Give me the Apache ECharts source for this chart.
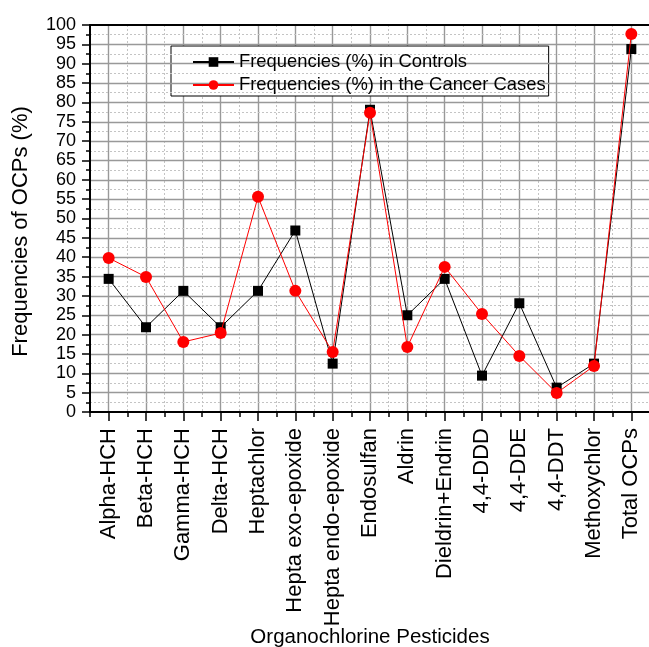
<!DOCTYPE html>
<html>
<head>
<meta charset="utf-8">
<script src="https://cdn.jsdelivr.net/npm/echarts@6/dist/echarts.min.js"></script>
<style>html,body{margin:0;padding:0;background:#fff;}#c{width:649px;height:647px;}</style>
</head>
<body>
<div id="c"></div>
<script>
const categories = ['Alpha-HCH','Beta-HCH','Gamma-HCH','Delta-HCH','Heptachlor','Hepta exo-epoxide','Hepta endo-epoxide','Endosulfan','Aldrin','Dieldrin+Endrin','4,4-DDD','4,4-DDE','4,4-DDT','Methoxychlor','Total OCPs'];
const controls = [34.4, 21.9, 31.3, 21.9, 31.3, 46.9, 12.5, 78.1, 25.0, 34.4, 9.4, 28.1, 6.3, 12.5, 93.8];
const cancer = [39.8, 34.9, 18.1, 20.4, 55.6, 31.3, 15.5, 77.3, 16.8, 37.5, 25.3, 14.5, 4.9, 11.9, 97.7];
const yTicks = {min: 0, max: 100, interval: 5};
const seriesNames = ['Frequencies (%) in Controls', 'Frequencies (%) in the Cancer Cases'];

const FONT = '"Liberation Sans", Arial, sans-serif';
const chart = echarts.init(document.getElementById('c'), null, {renderer: 'canvas'});
chart.setOption({
  backgroundColor: '#fff',
  animation: false,
  textStyle: {fontFamily: FONT, color: '#000'},
  grid: {left: 90, top: 25, width: 560, height: 387, containLabel: false, outerBoundsMode: 'none'},
  legend: {
    show: true,
    orient: 'vertical',
    left: 171, top: 46,
    padding: [7, 3, 2, 21],
    itemWidth: 41, itemHeight: 12,
    itemGap: 5,
    backgroundColor: '#fff',
    borderColor: '#000', borderWidth: 1, borderRadius: 0,
    textStyle: {fontFamily: FONT, fontSize: 18.4, color: '#000', padding: [0,0,0,0]},
    data: seriesNames
  },
  xAxis: [
    {
      type: 'category', data: categories, boundaryGap: true, position: 'bottom', z: 5,
      axisLine: {show: true, lineStyle: {color: '#000', width: 2}},
      axisTick: {show: false},
      splitLine: {show: false},
      axisLabel: {rotate: 90, fontSize: 22, fontFamily: FONT, color: '#000', margin: 16, interval: 0},
      name: 'Organochlorine Pesticides', nameLocation: 'middle', nameGap: 215, nameMoveOverlap: false,
      nameTextStyle: {fontSize: 20.5, fontFamily: FONT, color: '#000'}
    },
    {
      type: 'value', min: 0, max: 15, interval: 1, position: 'bottom', z: 1,
      axisLine: {show: false},
      axisLabel: {show: false},
      axisTick: {show: true, inside: false, length: 5, lineStyle: {color: '#000', width: 1.5}},
      minorTick: {show: true, splitNumber: 2, length: 9, lineStyle: {color: '#000', width: 1.5}},
      splitLine: {show: true, showMinLine: false, showMaxLine: false, lineStyle: {color: '#c4c4c4', width: 1, type: [2, 2]}},
      minorSplitLine: {show: true, lineStyle: {color: '#999', width: 1.4}}
    },
    {
      type: 'value', min: 0, max: 1, position: 'top', z: 5,
      axisLine: {show: true, lineStyle: {color: '#000', width: 2}},
      axisTick: {show: false}, axisLabel: {show: false}, splitLine: {show: false}
    }
  ],
  yAxis: {
    type: 'value', min: yTicks.min, max: yTicks.max, interval: yTicks.interval, z: 4,
    axisLine: {show: true, lineStyle: {color: '#000', width: 2}},
    axisTick: {show: true, length: 8, lineStyle: {color: '#000', width: 1.5}},
    minorTick: {show: true, splitNumber: 2, length: 4, lineStyle: {color: '#000', width: 1.5}},
    splitLine: {show: true, showMinLine: false, showMaxLine: false, lineStyle: {color: '#999', width: 1.4}},
    minorSplitLine: {show: true, lineStyle: {color: '#c4c4c4', width: 1, type: [2, 2]}},
    axisLabel: {fontSize: 18, fontFamily: FONT, color: '#000', margin: 14},
    name: 'Frequencies of OCPs (%)', nameLocation: 'middle', nameGap: 58, nameMoveOverlap: false,
    nameTextStyle: {fontSize: 22, fontFamily: FONT, color: '#000', padding: [0, 26, 0, 0]}
  },
  series: [
    {
      name: seriesNames[0], type: 'line', data: controls, xAxisIndex: 0, z: 6,
      symbol: 'rect', symbolSize: 10, showAllSymbol: true,
      lineStyle: {color: '#000', width: 1}, itemStyle: {color: '#000'}
    },
    {
      name: seriesNames[1], type: 'line', data: cancer, xAxisIndex: 0, z: 7,
      symbol: 'circle', symbolSize: 12, showAllSymbol: true,
      lineStyle: {color: '#ff0000', width: 1}, itemStyle: {color: '#ff0000'}
    }
  ]
});
</script>
</body>
</html>
